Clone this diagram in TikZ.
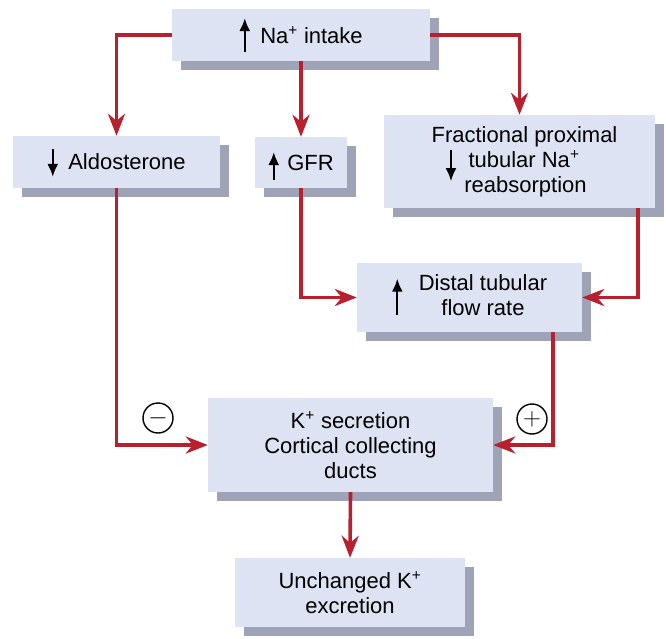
\documentclass[tikz,border=0pt]{standalone}
\usepackage{fontspec}
\setmainfont{Liberation Sans}
\usepackage{xcolor}
\usepackage{tikz}
\usetikzlibrary{arrows.meta, positioning, shadows}
\definecolor{myred}{RGB}{184,32,47}
\definecolor{myfill}{RGB}{221,227,243}
\definecolor{myshade}{RGB}{158,163,184}
\tikzset{
  arrow/.style={draw=myred, line width=3.6pt, -{Stealth[length=22pt,width=17pt,inset=7pt]}},
  blkarrow/.style={draw=black, line width=2.2pt, -{Latex[length=13pt,width=11pt]}},
  block/.style={rectangle, fill=myfill, inner sep=2pt, align=center, font=\fontsize{22}{25}\selectfont, drop shadow={shadow xshift=9pt, shadow yshift=-9pt, fill=myshade, opacity=1}}
}
\newcommand{\vertarr}[2]{\smash{\tikz[baseline=0pt]\draw[blkarrow] (0pt,#1) -- (0pt,#2);}}

\begin{document}
\begin{tikzpicture}[x=1pt, y=-1pt, sign/.style={circle, draw=black, line width=1.4pt, minimum size=30pt, inner sep=0pt, font=\fontsize{24}{24}\selectfont}]
  \useasboundingbox (0,0) rectangle (666,639);
  \node [block, minimum width=258pt, minimum height=52pt] (na) at (301,35) {\vertarr{-9pt}{25pt}\hspace{10pt}Na\textsuperscript{+} intake};
  \node [block, minimum width=207pt, minimum height=52pt] (aldo) at (116.5,162) {\vertarr{21pt}{-7pt}\hspace{10pt}Aldosterone};
  \node [block, minimum width=92pt, minimum height=51pt] (gfr) at (301,162.5) {\vertarr{-10pt}{18pt}\hspace{8pt}GFR};
  \node [block, minimum width=271pt, minimum height=93pt] (frac) at (519.5,161.5) {\hspace*{10pt}Fractional proximal\\\vertarr{17pt}{-14pt}\hspace{12pt}tubular Na\textsuperscript{+}\rule{14pt}{0pt}\\\hspace*{12pt}reabsorption};
  \node [block, minimum width=225pt, minimum height=69pt] (dist) at (469.5,297.5) {\vertarr{-12pt}{24pt}\hspace{16pt}\begin{tabular}{@{}c@{}}Distal tubular\\flow rate\end{tabular}};
  \node [block, minimum width=285pt, minimum height=94pt] (ksec) at (350.5,445) {K\textsuperscript{+} secretion\\Cortical collecting\\ducts};
  \node [block, minimum width=230pt, minimum height=69pt] (unch) at (350,592.5) {Unchanged K\textsuperscript{+}\\excretion};

  \node [sign] (minus) at (158,418) {$-$};
  \node [sign] (plus) at (532,419) {$+$};

  \draw [arrow] (na.west) -| (aldo.north);
  \draw [arrow] (na.south) -- (gfr.north);
  \draw [arrow] (na.east) -| (frac.north);
  \draw [arrow] (aldo.south) |- (ksec.west);
  \draw [arrow] (gfr.south) |- (dist.west);
  \draw [arrow] ([xshift=-17pt]frac.south east) |- (dist.east);
  \draw [arrow] ([xshift=-29pt]dist.south east) |- (ksec.east);
  \draw [arrow] (ksec.south) -- (unch.north);
\end{tikzpicture}
\end{document}
